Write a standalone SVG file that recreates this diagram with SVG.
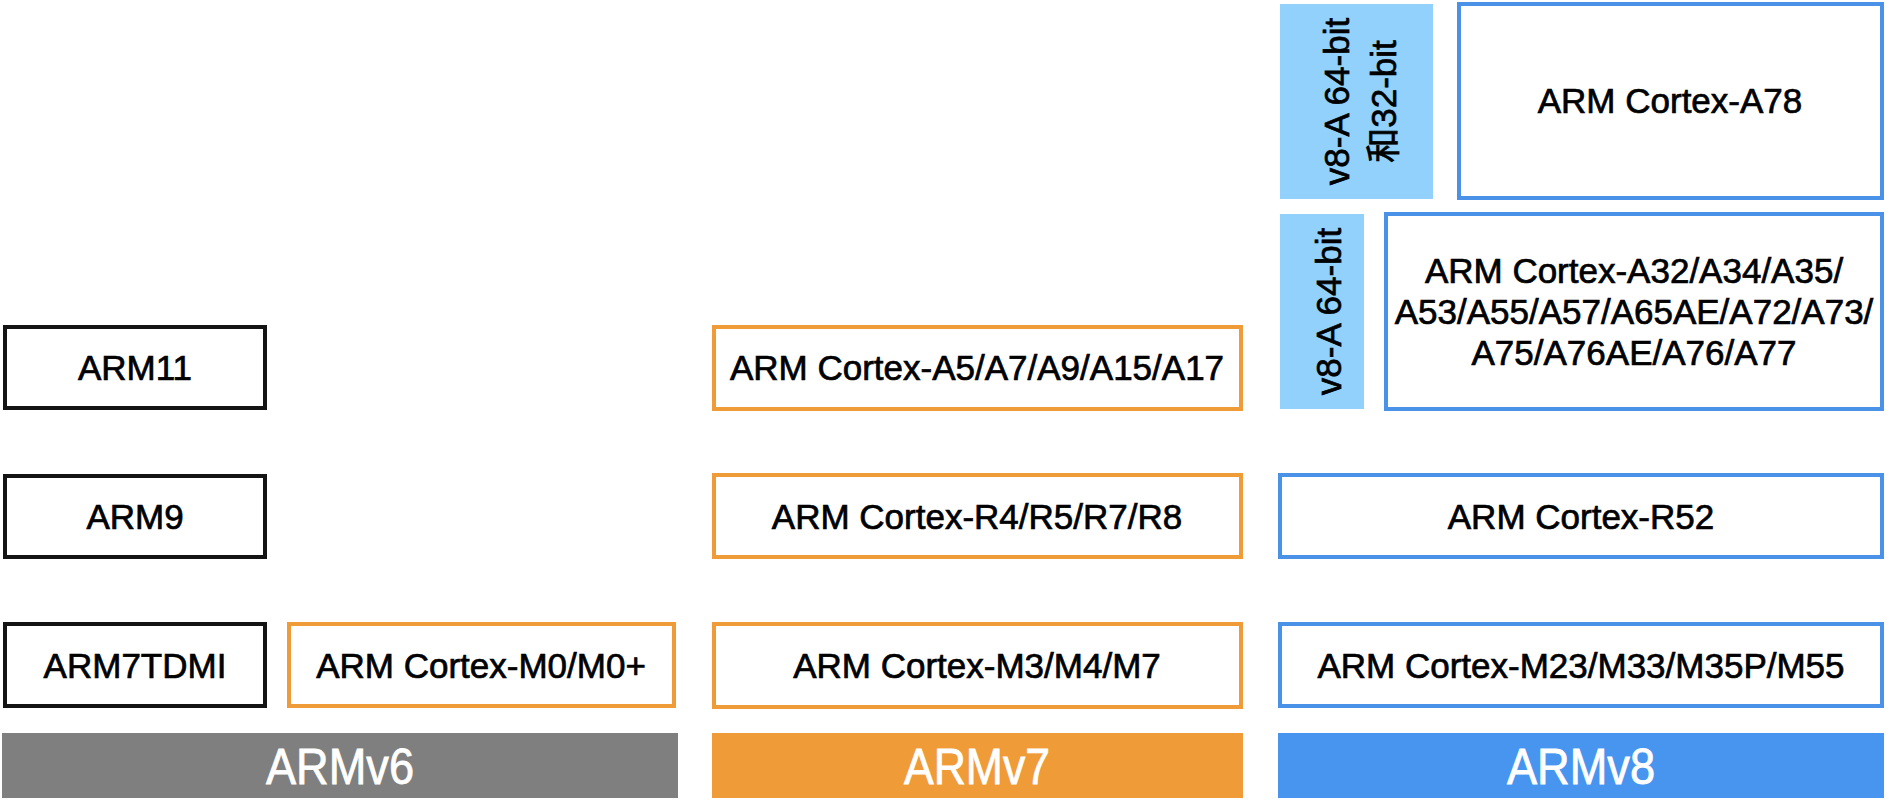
<svg xmlns="http://www.w3.org/2000/svg" width="1887" height="800" viewBox="0 0 1887 800">
<style>
  .bk{fill:#fff;stroke:#141414;stroke-width:4}
  .or{fill:#fff;stroke:#EF9B38;stroke-width:4}
  .bl{fill:#fff;stroke:#4A91E8;stroke-width:4}
  .lb{fill:#91D1FB}
  .t{font-family:"Liberation Sans","Noto Sans CJK SC",sans-serif;font-size:35px;fill:#000;stroke:#000;stroke-width:0.7;text-anchor:middle}
  .bt{font-family:"Liberation Sans",sans-serif;font-size:50px;fill:#fff;stroke:#fff;stroke-width:0.8;text-anchor:middle}
</style>
<rect width="1887" height="800" fill="#fff"/>
<g id="bar-armv6"><rect x="2" y="733" width="676" height="65" fill="#7F7F7F"/><text class="bt" x="340" y="784" textLength="148" lengthAdjust="spacingAndGlyphs">ARMv6</text></g>
<g id="bar-armv7"><rect x="712" y="733" width="531" height="65" fill="#EF9B38"/><text class="bt" x="977" y="784" textLength="146" lengthAdjust="spacingAndGlyphs">ARMv7</text></g>
<g id="bar-armv8"><rect x="1278" y="733" width="606" height="65" fill="#4895F0"/><text class="bt" x="1581" y="784" textLength="148" lengthAdjust="spacingAndGlyphs">ARMv8</text></g>

<g id="arm11"><rect class="bk" x="5" y="327" width="260" height="81"/><text class="t" x="135" y="380">ARM11</text></g>
<g id="arm9"><rect class="bk" x="5" y="476" width="260" height="81"/><text class="t" x="135" y="529">ARM9</text></g>
<g id="arm7tdmi"><rect class="bk" x="5" y="624" width="260" height="82"/><text class="t" x="135" y="678">ARM7TDMI</text></g>
<g id="m0"><rect class="or" x="289" y="624" width="385" height="82"/><text class="t" x="481" y="678">ARM Cortex-M0/M0+</text></g>

<g id="a5"><rect class="or" x="714" y="327" width="527" height="82"/><text class="t" x="977" y="380">ARM Cortex-A5/A7/A9/A15/A17</text></g>
<g id="r4"><rect class="or" x="714" y="475" width="527" height="82"/><text class="t" x="977" y="529">ARM Cortex-R4/R5/R7/R8</text></g>
<g id="m3"><rect class="or" x="714" y="624" width="527" height="83"/><text class="t" x="977" y="678">ARM Cortex-M3/M4/M7</text></g>

<g id="r52"><rect class="bl" x="1280" y="475" width="602" height="82"/><text class="t" x="1581" y="529">ARM Cortex-R52</text></g>
<g id="m23"><rect class="bl" x="1280" y="624" width="602" height="82"/><text class="t" x="1581" y="678">ARM Cortex-M23/M33/M35P/M55</text></g>

<g id="v8a64"><rect class="lb" x="1280" y="214" width="84" height="195"/><text class="t" transform="translate(1341 311.5) rotate(-90)" x="0" y="0">v8-A 64-bit</text></g>
<g id="a32"><rect class="bl" x="1386" y="214" width="496" height="195"/>
  <text class="t" x="1634" y="283">ARM Cortex-A32/A34/A35/</text>
  <text class="t" x="1634" y="324">A53/A55/A57/A65AE/A72/A73/</text>
  <text class="t" x="1634" y="365">A75/A76AE/A76/A77</text></g>

<g id="v8a6432"><rect class="lb" x="1280" y="4" width="153" height="195"/>
  <text class="t" transform="translate(1349 101.5) rotate(-90)" x="0" y="0">v8-A 64-bit</text>
  <text class="t" transform="translate(1396 101.5) rotate(-90)" x="0" y="0">和32-bit</text></g>
<g id="a78"><rect class="bl" x="1459" y="4" width="423" height="194"/><text class="t" x="1670" y="113">ARM Cortex-A78</text></g>
<g id="connectors"/>
</svg>
